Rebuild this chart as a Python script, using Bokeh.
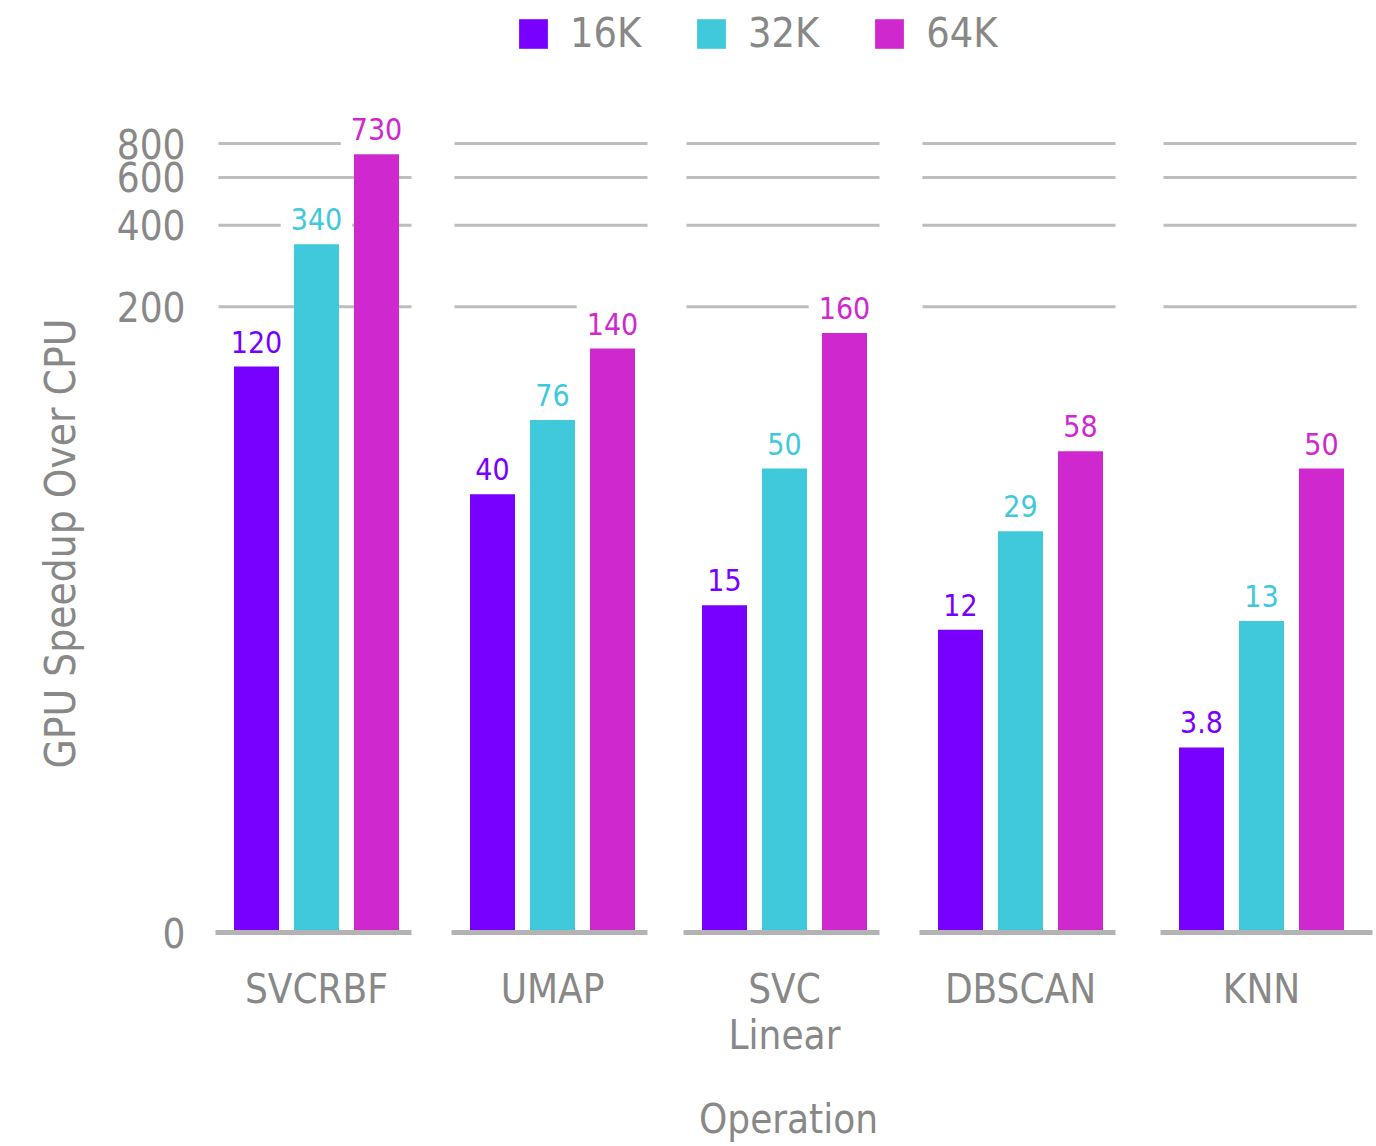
import numpy as np
from bokeh.plotting import figure
from bokeh.models import (ColumnDataSource, Range1d, FixedTicker, CustomJSTickFormatter,
                          Legend, LegendItem, Title)
from bokeh.core.properties import value
from bokeh.embed import file_html
from bokeh.resources import INLINE

# ---- data ----
categories = ["SVCRBF", "UMAP", "SVC\nLinear", "DBSCAN", "KNN"]
series_names = ["16K", "32K", "64K"]
speedup_16k = [120, 40, 15, 12, 3.8]
speedup_32k = [340, 76, 50, 29, 13]
speedup_64k = [730, 140, 160, 58, 50]
y_tick_values = [0, 200, 400, 600, 800]
series_colors = ["#7700FF", "#40C9DB", "#CF28CF"]

# ---- style / layout ----
FONT = "DejaVu Sans Condensed"
TEXT_COLOR = "#888888"
GRID_COLOR = "#BDBDBD"
BASE_COLOR = "#B3B3B3"
PX = 271.7            # pixels per decade of log10(1+v)
W, H = 1376, 1146
LEFT = 200
group_x = [316, 552, 784, 1020, 1261]   # group centres (layout, in px-like x units)
bar_offsets = [-60, 0, 60]

def tf(v):
    return np.log10(1.0 + np.asarray(v, dtype=float))

p = figure(width=W, height=H, output_backend="svg", toolbar_location=None,
           x_range=Range1d(LEFT, W), y_range=Range1d(-5 / PX, 932 / PX),
           min_border_left=LEFT, min_border_right=0, min_border_top=0,
           min_border_bottom=209)
p.outline_line_color = None
p.xgrid.visible = False
p.ygrid.visible = False
p.background_fill_color = "white"
p.border_fill_color = "white"

# grid segments per group
gx0, gx1, gy = [], [], []
for c in group_x:
    for t in tf(y_tick_values[1:]):
        gx0.append(c - 98)
        gx1.append(c + 95)
        gy.append(t)
p.segment(x0=gx0, x1=gx1, y0=gy, y1=gy, line_color=GRID_COLOR, line_width=3)

# value labels (drawn below bars so their white box only hides gridlines)
all_series = [speedup_16k, speedup_32k, speedup_64k]
for vals, off, col in zip(all_series, bar_offsets, series_colors):
    xs = [c + off for c in group_x]
    p.text(x=xs, y=list(tf(vals)), text=[f"{v:g}" for v in vals],
           text_align="center", text_baseline="bottom", y_offset=-4,
           text_font=value(FONT), text_font_size="30px", text_color=col,
           background_fill_color="white", padding=10)

items = []
for vals, off, col, name in zip(all_series, bar_offsets, series_colors, series_names):
    src = ColumnDataSource(dict(x=[c + off for c in group_x], top=list(tf(vals))))
    r = p.vbar(x="x", top="top", bottom=0, width=45, source=src,
               fill_color=col, line_color=None)
    items.append(LegendItem(label=name, renderers=[r]))

# baseline segments
bx1 = [c + 95 for c in group_x]
bx1[-1] = group_x[-1] + 111
p.segment(x0=[c - 101 for c in group_x], x1=bx1,
          y0=[0] * len(group_x), y1=[0] * len(group_x),
          line_color=BASE_COLOR, line_width=5)

legend = Legend(items=items, orientation="horizontal", location=(315, 880),
                glyph_width=36, glyph_height=37, label_standoff=19, spacing=52,
                padding=0, margin=0, border_line_color=None,
                background_fill_alpha=0,
                label_text_font=FONT, label_text_font_size="41px",
                label_text_color=TEXT_COLOR)
p.add_layout(legend)

# y axis
yax = p.yaxis[0]
yax.ticker = FixedTicker(ticks=list(tf(y_tick_values)))
yax.formatter = CustomJSTickFormatter(code="return String(Math.round(Math.pow(10, tick) - 1))")
yax.axis_line_color = None
yax.major_tick_line_color = None
yax.minor_tick_line_color = None
yax.major_tick_out = 0
yax.major_tick_in = 0
yax.major_label_standoff = 15
yax.major_label_text_font = FONT
yax.major_label_text_font_size = "40px"
yax.major_label_text_color = TEXT_COLOR

# x axis
xax = p.xaxis[0]
xax.ticker = FixedTicker(ticks=group_x)
xax.formatter = CustomJSTickFormatter(args=dict(names=categories, centers=group_x),
                                      code="const i = centers.indexOf(tick); return i >= 0 ? names[i] : ''")
xax.axis_line_color = None
xax.major_tick_line_color = None
xax.minor_tick_line_color = None
xax.major_label_standoff = 22
xax.major_label_text_font = FONT
xax.major_label_text_font_size = "40px"
xax.major_label_text_line_height = 1.0
xax.major_label_text_color = TEXT_COLOR
xax.axis_label = "Operation"
xax.axis_label_standoff = 35
xax.axis_label_text_font = FONT
xax.axis_label_text_font_size = "40px"
xax.axis_label_text_font_style = "normal"
xax.axis_label_text_color = TEXT_COLOR

# y axis title (as a left-side title so it can be offset along the axis)
p.add_layout(Title(text="GPU Speedup Over CPU", align="left", offset=169, standoff=57,
                   text_font=FONT, text_font_size="42px", text_font_style="normal",
                   text_color=TEXT_COLOR), "left")

open("out.html", "w").write(file_html(p, INLINE))
